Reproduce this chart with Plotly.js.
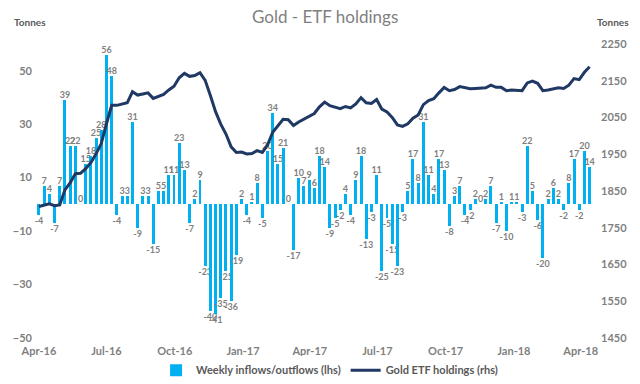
<!DOCTYPE html>
<html><head><meta charset="utf-8">
<script src="https://cdn.plot.ly/plotly-3.0.1.min.js"></script>
<style>html,body{margin:0;padding:0;background:#fff}#chart{width:640px;height:384px}</style>
</head><body><div id="chart"></div>
<script>
const weeks = [
'2016-04-01','2016-04-08','2016-04-15','2016-04-22','2016-04-29','2016-05-06','2016-05-13','2016-05-20','2016-05-27',
'2016-06-03','2016-06-10','2016-06-17','2016-06-24','2016-07-01','2016-07-08','2016-07-15','2016-07-22','2016-07-29',
'2016-08-05','2016-08-12','2016-08-19','2016-08-26','2016-09-02','2016-09-09','2016-09-16','2016-09-23','2016-09-30',
'2016-10-07','2016-10-14','2016-10-21','2016-10-28','2016-11-04','2016-11-11','2016-11-18','2016-11-25',
'2016-12-02','2016-12-09','2016-12-16','2016-12-23','2016-12-30',
'2017-01-06','2017-01-13','2017-01-20','2017-01-27','2017-02-03','2017-02-10','2017-02-17','2017-02-24',
'2017-03-03','2017-03-10','2017-03-17','2017-03-24','2017-03-31','2017-04-07','2017-04-14','2017-04-21','2017-04-28',
'2017-05-05','2017-05-12','2017-05-19','2017-05-26','2017-06-02','2017-06-09','2017-06-16','2017-06-23','2017-06-30',
'2017-07-07','2017-07-14','2017-07-21','2017-07-28','2017-08-04','2017-08-11','2017-08-18','2017-08-25',
'2017-09-01','2017-09-08','2017-09-15','2017-09-22','2017-09-29','2017-10-06','2017-10-13','2017-10-20','2017-10-27',
'2017-11-03','2017-11-10','2017-11-17','2017-11-24','2017-12-01','2017-12-08','2017-12-15','2017-12-22','2017-12-29',
'2018-01-05','2018-01-12','2018-01-19','2018-01-26','2018-02-02','2018-02-09','2018-02-16','2018-02-23',
'2018-03-02','2018-03-09','2018-03-16','2018-03-23','2018-03-30','2018-04-06','2018-04-13'];

const flows = [
-4,7,4,-7,7,39,22,22,0,15,18,25,28,56,48,-4,3,3,31,-9,3,3,-15,5,5,11,11,23,13,-7,2,9,
-23,-40,-41,-35,-25,-36,-19,2,-4,1,8,-5,20,34,15,21,0,-17,10,7,9,6,18,14,-9,-5,-2,4,-4,9,18,-13,-3,11,
-25,-5,-15,-23,-3,5,17,8,31,11,4,17,13,-8,3,7,-4,-2,2,0,2,7,-7,1,-10,1,1,-3,22,5,-6,-20,2,6,2,-2,8,17,-2,20,14];

const holdings = [
1808,1812,1815,1810,1812,1853,1872,1897,1898,1911,1927,1951,1979,2033,2083,2083,2087,2090,2120,2111,2114,2117,2102,2107,2113,2125,2135,2158,2170,2162,2164,2172,
2151,2110,2066,2032,2005,1970,1955,1956,1951,1952,1960,1955,1975,2010,2027,2045,2044,2028,2038,2046,2055,2061,2079,2092,2082,2077,2074,2080,2076,2087,2104,2090,2088,2099,
2073,2065,2050,2030,2026,2033,2048,2057,2085,2096,2101,2117,2132,2123,2126,2134,2130,2128,2129,2129,2131,2138,2132,2132,2123,2125,2125,2123,2144,2149,2143,2123,2125,2129,2131,2129,2138,2156,2153,2173,2188];

const tickDates = ['2016-04-01','2016-07-01','2016-10-01','2017-01-01','2017-04-01','2017-07-01','2017-10-01','2018-01-01','2018-04-01'];
const tickLabels = ['Apr-16','Jul-16','Oct-16','Jan-17','Apr-17','Jul-17','Oct-17','Jan-18','Apr-18'];
const leftTicks = [-50,-30,-10,10,30,50];
const rightTicks = [1450,1550,1650,1750,1850,1950,2050,2150,2250];

const FONT = 'Lato, "Open Sans", sans-serif';
const tickFont = {family: FONT, size: 11, color: '#7f7f7f', weight: 'bold'};

const traces = [
  {
    type: 'bar', name: 'Weekly inflows/outflows (lhs)',
    x: weeks, y: flows,
    width: 4 * 86400000,
    marker: {color: '#00b0f0'},
    text: flows.map(String),
    textposition: 'outside',
    constraintext: 'none',
    cliponaxis: false,
    textfont: {family: FONT, size: 9, color: '#7f7f7f', weight: 'bold'},
    hoverinfo: 'skip'
  },
  {
    type: 'scatter', mode: 'lines', name: 'Gold ETF holdings (rhs)',
    x: weeks, y: holdings, yaxis: 'y2',
    line: {color: '#1f3864', width: 3},
    hoverinfo: 'skip'
  }
];

const layout = {
  width: 640, height: 384,
  paper_bgcolor: '#fff', plot_bgcolor: '#fff',
  margin: {l: 33, r: 40, t: 44, b: 46},
  showlegend: true,
  title: {text: 'Gold - ETF holdings', font: {family: FONT, size: 17, color: '#7f7f7f'},
          xref: 'container', x: 0.508, xanchor: 'center', yref: 'container', y: 0.956, yanchor: 'middle'},
  xaxis: {type: 'date', range: ['2016-03-24', '2018-04-27'], tickvals: tickDates, ticktext: tickLabels,
          showgrid: false, zeroline: false, showline: false, ticks: '', tickfont: tickFont, ticklabelstandoff: 5},
  yaxis: {range: [-50, 60], tickvals: leftTicks, showgrid: false, zeroline: false, showline: false,
          ticks: '', tickfont: tickFont},
  yaxis2: {range: [1450, 2250], tickvals: rightTicks, overlaying: 'y', side: 'right', showgrid: false,
           zeroline: false, showline: false, ticks: '', tickfont: tickFont},
  bargap: 0,
  legend: {orientation: 'h', xref: 'container', x: 0.515, xanchor: 'center', yref: 'container', y: 0.036,
           yanchor: 'middle', font: {family: FONT, size: 11, color: '#595959', weight: 'bold'}, traceorder: 'normal'},
  annotations: [
    {text: 'Tonnes', xref: 'paper', yref: 'paper', x: -0.037, y: 1.075, xanchor: 'left', yanchor: 'middle',
     showarrow: false, font: {family: FONT, size: 10, color: '#595959', weight: 'bold'}},
    {text: 'Tonnes', xref: 'paper', yref: 'paper', x: 0.991, y: 1.075, xanchor: 'left', yanchor: 'middle',
     showarrow: false, font: {family: FONT, size: 10, color: '#595959', weight: 'bold'}}
  ]
};

Plotly.newPlot('chart', traces, layout, {displayModeBar: false, staticPlot: true});
</script>
</body></html>
